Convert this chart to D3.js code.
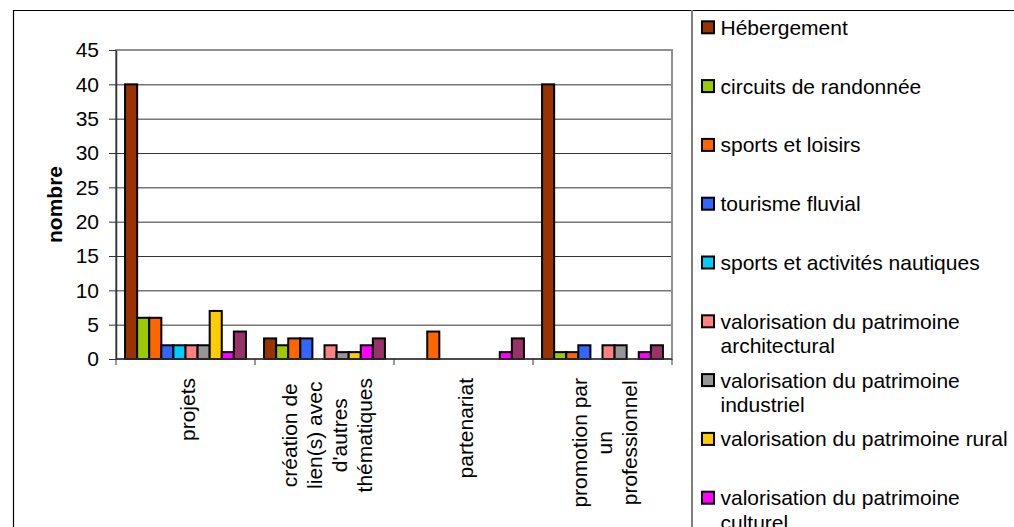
<!DOCTYPE html>
<html>
<head>
<meta charset="utf-8">
<script src="https://cdn.jsdelivr.net/npm/d3@7"></script>
<style>
  body { margin: 0; background: #fff; }
  text { font-family: "Liberation Sans", Arial, sans-serif; }
</style>
</head>
<body>
<div class="chart"></div>
<script>
// categories (one entry per line of the rotated label)
const categories = [
    ["projets"],
    ["création de", "lien(s) avec", "d'autres", "thématiques"],
    ["partenariat"],
    ["promotion par", "un", "professionnel"]
];

// series names, as lines of the legend
const seriesNames = [
    ["Hébergement"],
    ["circuits de randonnée"],
    ["sports et loisirs"],
    ["tourisme fluvial"],
    ["sports et activités nautiques"],
    ["valorisation du patrimoine", "architectural"],
    ["valorisation du patrimoine", "industriel"],
    ["valorisation du patrimoine rural"],
    ["valorisation du patrimoine", "culturel"],
    ["autres"]
];

const seriesColors = ["#993300", "#99cc00", "#ff6600", "#3366ff", "#00ccff",
    "#ff8080", "#969696", "#ffcc00", "#ff00ff", "#993366"];

// values per series, one per category
const hebergement = [40, 3, 0, 40];
const circuits = [6, 2, 0, 1];
const sportsLoisirs = [6, 3, 4, 1];
const fluvial = [2, 3, 0, 2];
const nautiques = [2, 0, 0, 0];
const architectural = [2, 2, 0, 2];
const industriel = [2, 1, 0, 2];
const rural = [7, 1, 0, 0];
const culturel = [1, 2, 1, 1];
const autres = [4, 3, 3, 2];
const values = [hebergement, circuits, sportsLoisirs, fluvial, nautiques,
    architectural, industriel, rural, culturel, autres];

const yTicks = [0, 5, 10, 15, 20, 25, 30, 35, 40, 45];

const width = 1014, height = 527;
const plot = { left: 116, right: 672, top: 50, bottom: 359 };

const svg = d3.select(".chart").append("svg")
    .attr("width", width)
    .attr("height", height);

svg.append("rect").attr("width", width).attr("height", height).attr("fill", "#fff");

// outer frame
svg.append("path")
    .attr("d", `M13.5,${height} V10.5 H${width}`)
    .attr("fill", "none")
    .attr("stroke", "#000")
    .attr("stroke-width", 1.2);

// legend border
svg.append("line")
    .attr("x1", 692).attr("x2", 692)
    .attr("y1", 10).attr("y2", height)
    .attr("stroke", "#808080")
    .attr("stroke-width", 2);

const catIdx = categories.map((c, i) => i);
const x0 = d3.scaleBand()
    .domain(catIdx)
    .range([plot.left, plot.right]);

const x1 = d3.scaleBand()
    .domain(d3.range(values.length))
    .range([0, x0.bandwidth()])
    .paddingOuter(0.75);

const y = d3.scaleLinear()
    .domain([0, 45])
    .range([plot.bottom, plot.top]);

// gridlines
svg.append("g")
    .selectAll("line")
    .data(yTicks.filter(t => t > 0 && t < 45))
    .enter().append("line")
    .attr("x1", plot.left).attr("x2", plot.right)
    .attr("y1", d => y(d) + 0.5).attr("y2", d => y(d) + 0.5)
    .attr("stroke", "#333");

// plot area border
svg.append("rect")
    .attr("x", plot.left).attr("y", plot.top)
    .attr("width", plot.right - plot.left)
    .attr("height", plot.bottom - plot.top)
    .attr("fill", "none")
    .attr("stroke", "#909090")
    .attr("stroke-width", 2);

// bars
svg.append("g")
    .selectAll("g")
    .data(values)
    .enter().append("g")
    .attr("fill", (d, i) => seriesColors[i])
    .selectAll("rect")
    .data((d, i) => d.map((v, c) => ({ v, c, s: i })).filter(e => e.v > 0))
    .enter().append("rect")
    .attr("x", d => x0(d.c) + x1(d.s))
    .attr("y", d => y(d.v))
    .attr("width", x1.bandwidth())
    .attr("height", d => y(0) - y(d.v))
    .attr("stroke", "#000")
    .attr("stroke-width", 2);

// y axis
const yAxis = svg.append("g")
    .attr("transform", `translate(${plot.left},0)`)
    .call(d3.axisLeft(y).tickValues(yTicks).tickSize(7).tickSizeOuter(0).tickPadding(10));
yAxis.select(".domain").attr("stroke", "#333").attr("stroke-width", 1.5);
yAxis.selectAll(".tick line").attr("stroke", "#333");
yAxis.selectAll("text")
    .style("font-size", "21px")
    .attr("fill", "#000")
    .attr("font-family", "Liberation Sans, Arial, sans-serif");

// x axis line and category boundary ticks
svg.append("line")
    .attr("x1", plot.left).attr("x2", plot.right)
    .attr("y1", plot.bottom).attr("y2", plot.bottom)
    .attr("stroke", "#333").attr("stroke-width", 1.5);

const bounds = catIdx.map(c => x0(c)).concat([x0(catIdx.length - 1) + x0.bandwidth()]);
svg.append("g")
    .selectAll("line")
    .data(bounds)
    .enter().append("line")
    .attr("x1", d => d).attr("x2", d => d)
    .attr("y1", plot.bottom).attr("y2", plot.bottom + 6)
    .attr("stroke", "#333");

// category labels, rotated, lines centred in a block that starts under the axis
const labelTop = 378;
const lineH = 25;
categories.forEach((lines, c) => {
    const g = svg.append("g");
    const texts = lines.map((line, k) => {
        const cx = x0(c) + x0.bandwidth() / 2 + (k - (lines.length - 1) / 2) * lineH + 2;
        return g.append("text")
            .attr("transform", `translate(${cx},0) rotate(-90)`)
            .attr("text-anchor", "middle")
            .attr("dominant-baseline", "central")
            .style("font-size", "21px")
            .text(line);
    });
    const maxW = d3.max(texts, t => t.node().getComputedTextLength());
    texts.forEach((t, k) => {
        const cx = x0(c) + x0.bandwidth() / 2 + (k - (lines.length - 1) / 2) * lineH + 2;
        t.attr("transform", `translate(${cx},${labelTop + maxW / 2}) rotate(-90)`);
    });
});

// y axis title
svg.append("text")
    .attr("transform", `translate(62,${(plot.top + plot.bottom) / 2}) rotate(-90)`)
    .attr("text-anchor", "middle")
    .style("font-size", "21px")
    .style("font-weight", "bold")
    .text("nombre");

// legend
const legend = svg.append("g");
seriesNames.forEach((lines, i) => {
    const cy = 27.3 + i * 58.8;
    legend.append("rect")
        .attr("x", 702).attr("y", cy - 6)
        .attr("width", 12).attr("height", 12)
        .attr("fill", seriesColors[i])
        .attr("stroke", "#000")
        .attr("stroke-width", 2);
    lines.forEach((line, k) => {
        legend.append("text")
            .attr("x", 720.5)
            .attr("y", cy + 7.5 + k * 24.5)
            .style("font-size", "21px")
            .text(line);
    });
});
</script>
</body>
</html>
